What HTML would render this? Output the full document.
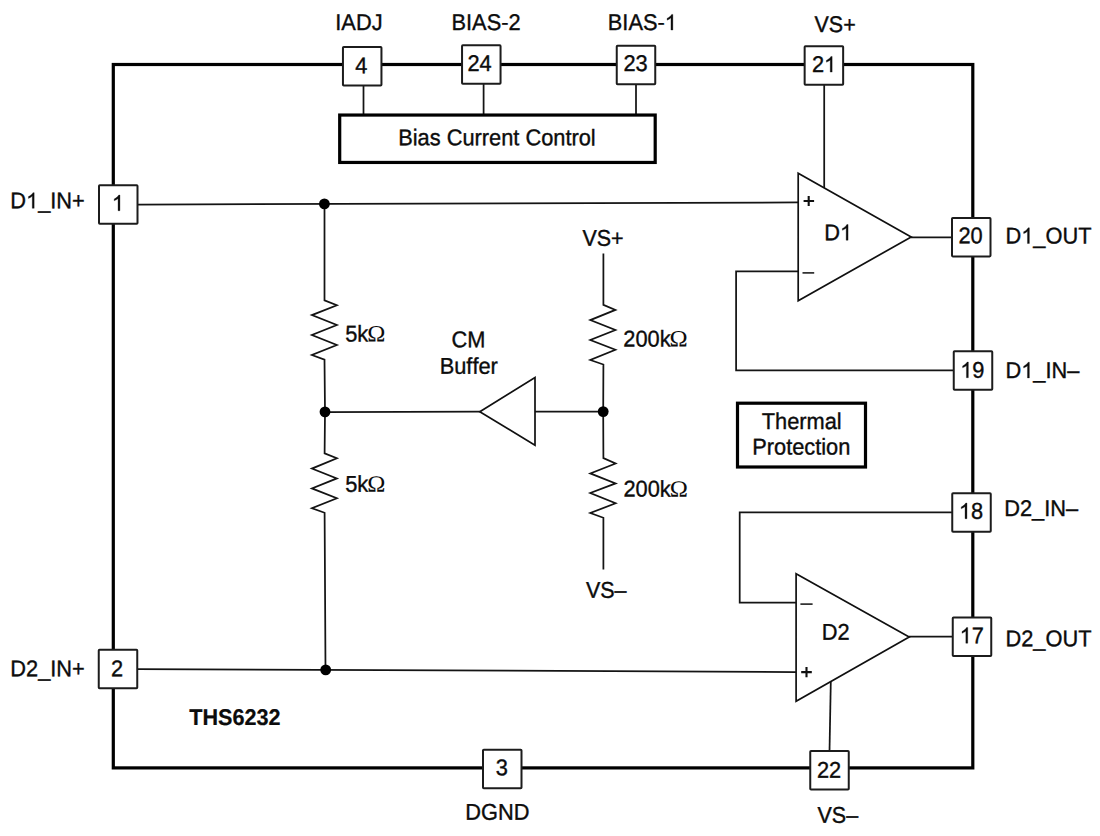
<!DOCTYPE html>
<html>
<head>
<meta charset="utf-8">
<title>THS6232 Block Diagram</title>
<style>
html,body{margin:0;padding:0;background:#fff;}
body{width:1100px;height:836px;overflow:hidden;}
svg{display:block;}
text{font-family:"Liberation Sans",sans-serif;font-size:21.8px;fill:#0c0c0c;stroke:#0c0c0c;stroke-width:0.35;font-kerning:none;text-rendering:geometricPrecision;}
.g1{fill:#0c0c0c;stroke:#0c0c0c;stroke-width:28;}
.om{font-family:"Liberation Serif",serif;stroke-width:0;}
.b{font-weight:bold;stroke-width:0.2;}
.pin{fill:#fff;stroke:#1c1c1c;stroke-width:2;}
.thin{fill:none;stroke:#141414;stroke-width:1.75;stroke-linejoin:miter;}
.amp{fill:#fff;stroke:#101010;stroke-width:1.7;stroke-linejoin:miter;}
.thick{fill:none;stroke:#000;stroke-width:3.2;}
.box{fill:#fff;stroke:#000;stroke-width:3.2;}
</style>
</head>
<body>
<svg width="1100" height="836" viewBox="0 0 1100 836">
<rect x="0" y="0" width="1100" height="836" fill="#fff"/>

<!-- outer package outline -->
<rect class="thick" x="113.3" y="64.5" width="859.5" height="703.4"/>

<!-- thin wires -->
<g class="thin">
<line x1="137.5" y1="204.5" x2="798.2" y2="202.4"/>
<line x1="137.5" y1="669" x2="796.1" y2="672"/>
<path d="M324.5,204 L324.5,300.3 L336.85,305.3 L311.9,315.1 L336.85,325 L311.9,335 L336.85,345 L311.9,355 L324.5,359.7 L325,412"/>
<path d="M325,412 L324.6,453.4 L336.85,458.2 L311.9,468.6 L336.85,478.4 L311.9,488.4 L336.85,498.3 L311.9,508.2 L324.6,512.8 L325.5,670"/>
<path d="M603.4,253.5 L603.4,304.9 L615.4,309.9 L590.3,320.1 L615.4,330 L590.3,340 L615.4,349.7 L590.3,360 L603.4,364.5 L603.2,411.5"/>
<path d="M603.2,411.5 L603.4,458.1 L615.6,463.5 L590.3,473.4 L615.6,483.4 L590.3,493 L615.6,503.3 L590.3,513 L603.4,517.8 L603.4,569.5"/>
<line x1="325" y1="412" x2="480" y2="411.7"/>
<line x1="535" y1="411.6" x2="603" y2="411.5"/>
<line x1="363.5" y1="85" x2="363.5" y2="115"/>
<line x1="483.6" y1="84" x2="483.6" y2="115"/>
<line x1="636" y1="84" x2="636" y2="115"/>
<line x1="824.2" y1="85" x2="824.2" y2="188"/>
<line x1="911" y1="237.3" x2="952" y2="237.3"/>
<path d="M798.2,271.3 L736.1,271.3 L736.1,370.3 L954,370.3"/>
<path d="M952.5,512.3 L739.7,512.3 L739.7,602.7 L796.1,602.7"/>
<line x1="909" y1="636.7" x2="953" y2="636.7"/>
<line x1="830.8" y1="681.5" x2="829.5" y2="751.5"/>
</g>

<!-- junction dots -->
<g fill="#000">
<circle cx="324.4" cy="203.9" r="5.4"/>
<circle cx="325" cy="411.9" r="5.4"/>
<circle cx="603.2" cy="411.6" r="5.4"/>
<circle cx="325.7" cy="669.9" r="5.4"/>
</g>

<!-- amplifiers -->
<polygon class="amp" points="798.2,173.3 911.2,237 798.2,300.7"/>
<polygon class="amp" points="796.1,573.8 909.2,637 796.1,701.2"/>
<polygon class="amp" points="479.8,411.7 535,377.6 535,445.3"/>

<!-- amp input signs -->
<g fill="none" stroke="#101010" stroke-width="2.1">
<path d="M803.6,201 H814.1 M808.7,195.9 V206.1"/>
<path stroke-width="1.5" d="M802.5,272.9 H814.2"/>
<path stroke-width="1.5" d="M800.4,604.1 H812.6"/>
<path d="M801.2,672.1 H811.8 M806.5,667 V677.3"/>
</g>

<!-- function blocks -->
<rect class="box" x="339.7" y="115.05" width="315.5" height="47.4"/>
<rect class="box" x="737.5" y="403.2" width="128" height="63.8"/>

<!-- pin boxes -->
<g class="pin">
<rect x="342.95" y="46.95" width="38.5" height="38.5" rx="0.8"/>
<rect x="462.05" y="45.35" width="38.5" height="38.5" rx="0.8"/>
<rect x="616.75" y="45.75" width="38.5" height="38.5" rx="0.8"/>
<rect x="804.65" y="46.25" width="38.5" height="38.5" rx="0.8"/>
<rect x="952.00" y="217.90" width="38.5" height="38.5" rx="0.8"/>
<rect x="953.75" y="351.25" width="38.5" height="38.5" rx="0.8"/>
<rect x="952.25" y="493.25" width="38.5" height="38.5" rx="0.8"/>
<rect x="952.75" y="617.50" width="38.5" height="38.5" rx="0.8"/>
<rect x="810.25" y="751.00" width="38.5" height="38.5" rx="0.8"/>
<rect x="483.00" y="749.75" width="38.5" height="38.5" rx="0.8"/>
<rect x="99.00" y="185.25" width="38.5" height="38.5" rx="0.8"/>
<rect x="98.75" y="649.75" width="38.5" height="38.5" rx="0.8"/>
</g>

<!-- text -->
<g transform="translate(335.29,30.00) scale(1.0,1.045) rotate(0.05)"><text x="0.00" y="0">IADJ</text></g>
<g transform="translate(451.51,30.00) scale(1.0,1.045) rotate(0.05)"><text x="0.00" y="0">BIAS-2</text></g>
<g transform="translate(607.81,30.00) scale(1.0,1.045) rotate(0.05)"><text x="0.00" y="0">BIAS-</text><path class="g1" transform="translate(56.94,0) scale(0.010645,-0.010186)" d="M763 0H583V1147Q518 1085 412.5 1023T223 930V1104Q374 1175 487 1276T647 1472H763Z"/></g>
<g transform="translate(814.51,32.10) scale(0.985,1.045) rotate(0.05)"><text x="0.00" y="0">VS+</text></g>
<g transform="translate(10.31,208.30) scale(1.0,1.045) rotate(0.05)"><text x="0.00" y="0">D</text><path class="g1" transform="translate(15.74,0) scale(0.010645,-0.010186)" d="M763 0H583V1147Q518 1085 412.5 1023T223 930V1104Q374 1175 487 1276T647 1472H763Z"/><text x="27.87" y="0">_IN+</text></g>
<g transform="translate(10.31,676.30) scale(1.0,1.045) rotate(0.05)"><text x="0.00" y="0">D2_IN+</text></g>
<g transform="translate(1005.51,243.50) scale(1.0,1.045) rotate(0.05)"><text x="0.00" y="0">D</text><path class="g1" transform="translate(15.74,0) scale(0.010645,-0.010186)" d="M763 0H583V1147Q518 1085 412.5 1023T223 930V1104Q374 1175 487 1276T647 1472H763Z"/><text x="27.87" y="0">_OUT</text></g>
<g transform="translate(1005.51,377.90) scale(1.0,1.045) rotate(0.05)"><text x="0.00" y="0">D</text><path class="g1" transform="translate(15.74,0) scale(0.010645,-0.010186)" d="M763 0H583V1147Q518 1085 412.5 1023T223 930V1104Q374 1175 487 1276T647 1472H763Z"/><text x="27.87" y="0">_IN–</text></g>
<g transform="translate(1004.21,516.00) scale(1.0,1.045) rotate(0.05)"><text x="0.00" y="0">D2_IN–</text></g>
<g transform="translate(1005.51,646.30) scale(1.0,1.045) rotate(0.05)"><text x="0.00" y="0">D2_OUT</text></g>
<g transform="translate(465.21,819.80) scale(1.0,1.045) rotate(0.05)"><text x="0.00" y="0">DGND</text></g>
<g transform="translate(817.51,822.80) scale(0.985,1.045) rotate(0.05)"><text x="0.00" y="0">VS–</text></g>
<g transform="translate(189.26,725.00) scale(0.992,1.045) rotate(0.05)"><text class="b" x="0.00" y="0">THS6232</text></g>
<g transform="translate(398.21,145.20) scale(1.0,1.045) rotate(0.05)"><text x="0.00" y="0">Bias Current Control</text></g>
<g transform="translate(761.71,429.00) scale(1.0,1.045) rotate(0.05)"><text x="0.00" y="0">Thermal</text></g>
<g transform="translate(752.21,454.50) scale(1.0,1.045) rotate(0.05)"><text x="0.00" y="0">Protection</text></g>
<g transform="translate(451.39,347.30) scale(1.0,1.045) rotate(0.05)"><text x="0.00" y="0">CM</text></g>
<g transform="translate(439.71,373.80) scale(1.0,1.045) rotate(0.05)"><text x="0.00" y="0">Buffer</text></g>
<g transform="translate(345.13,341.40) scale(1.0,1.045) rotate(0.05)"><text x="0.00" y="0">5k</text><text class="om" transform="translate(22.06,0) scale(1.12,1.0239)">Ω</text></g>
<g transform="translate(345.13,491.70) scale(1.0,1.045) rotate(0.05)"><text x="0.00" y="0">5k</text><text class="om" transform="translate(22.06,0) scale(1.12,1.0239)">Ω</text></g>
<g transform="translate(582.41,245.80) scale(0.985,1.045) rotate(0.05)"><text x="0.00" y="0">VS+</text></g>
<g transform="translate(623.30,346.50) scale(1.0,1.045) rotate(0.05)"><text x="0.00" y="0">200k</text><text class="om" transform="translate(46.31,0) scale(1.12,1.0239)">Ω</text></g>
<g transform="translate(623.40,496.60) scale(1.0,1.045) rotate(0.05)"><text x="0.00" y="0">200k</text><text class="om" transform="translate(46.31,0) scale(1.12,1.0239)">Ω</text></g>
<g transform="translate(585.91,597.80) scale(0.985,1.045) rotate(0.05)"><text x="0.00" y="0">VS–</text></g>
<g transform="translate(824.21,240.20) scale(1.0,1.045) rotate(0.05)"><text x="0.00" y="0">D</text><path class="g1" transform="translate(15.74,0) scale(0.010645,-0.010186)" d="M763 0H583V1147Q518 1085 412.5 1023T223 930V1104Q374 1175 487 1276T647 1472H763Z"/></g>
<g transform="translate(821.71,639.80) scale(1.0,1.045) rotate(0.05)"><text x="0.00" y="0">D2</text></g>
<g transform="translate(355.30,73.20) scale(1.0,1.045) rotate(0.05)"><text x="0.00" y="0">4</text></g>
<g transform="translate(467.40,70.90) scale(1.0,1.045) rotate(0.05)"><text x="0.00" y="0">24</text></g>
<g transform="translate(623.40,71.10) scale(1.0,1.045) rotate(0.05)"><text x="0.00" y="0">23</text></g>
<g transform="translate(811.90,72.10) scale(1.0,1.045) rotate(0.05)"><text x="0.00" y="0">2</text><path class="g1" transform="translate(12.12,0) scale(0.010645,-0.010186)" d="M763 0H583V1147Q518 1085 412.5 1023T223 930V1104Q374 1175 487 1276T647 1472H763Z"/></g>
<g transform="translate(958.40,243.20) scale(1.0,1.045) rotate(0.05)"><text x="0.00" y="0">20</text></g>
<g transform="translate(960.23,377.70) scale(1.0,1.045) rotate(0.05)"><path class="g1" transform="translate(0.00,0) scale(0.010645,-0.010186)" d="M763 0H583V1147Q518 1085 412.5 1023T223 930V1104Q374 1175 487 1276T647 1472H763Z"/><text x="12.12" y="0">9</text></g>
<g transform="translate(958.83,518.70) scale(1.0,1.045) rotate(0.05)"><path class="g1" transform="translate(0.00,0) scale(0.010645,-0.010186)" d="M763 0H583V1147Q518 1085 412.5 1023T223 930V1104Q374 1175 487 1276T647 1472H763Z"/><text x="12.12" y="0">8</text></g>
<g transform="translate(959.63,643.20) scale(1.0,1.045) rotate(0.05)"><path class="g1" transform="translate(0.00,0) scale(0.010645,-0.010186)" d="M763 0H583V1147Q518 1085 412.5 1023T223 930V1104Q374 1175 487 1276T647 1472H763Z"/><text x="12.12" y="0">7</text></g>
<g transform="translate(816.90,777.70) scale(1.0,1.045) rotate(0.05)"><text x="0.00" y="0">22</text></g>
<g transform="translate(495.67,775.20) scale(1.0,1.045) rotate(0.05)"><text x="0.00" y="0">3</text></g>
<g transform="translate(111.83,210.70) scale(1.0,1.045) rotate(0.05)"><path class="g1" transform="translate(0.00,0) scale(0.010645,-0.010186)" d="M763 0H583V1147Q518 1085 412.5 1023T223 930V1104Q374 1175 487 1276T647 1472H763Z"/></g>
<g transform="translate(110.90,676.20) scale(1.0,1.045) rotate(0.05)"><text x="0.00" y="0">2</text></g>
</svg>
</body>
</html>
